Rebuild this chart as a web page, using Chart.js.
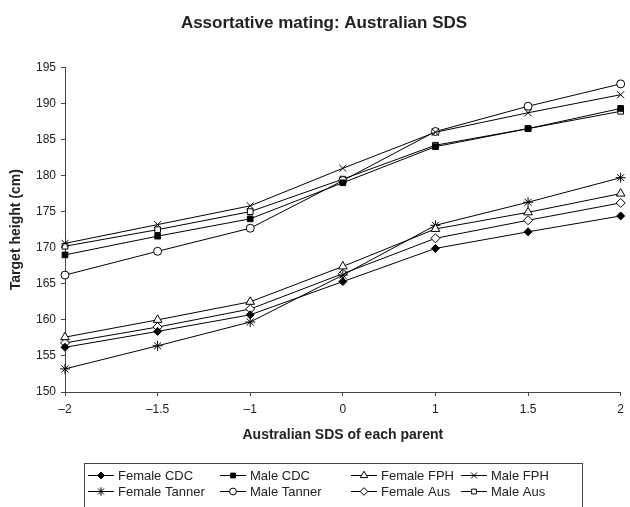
<!DOCTYPE html>
<html>
<head>
<meta charset="utf-8">
<script src="https://cdn.jsdelivr.net/npm/chart.js@4/dist/chart.umd.min.js"></script>
<style>
  html, body { margin: 0; padding: 0; background: #fff; }
  canvas { display: block; }
</style>
</head>
<body>
<canvas id="chart" width="630" height="507"></canvas>
<script>
// tick labels along the x axis (category axis, evenly spaced)
var sdsLabels = ['\u20132', '\u20131.5', '\u20131', '0', '1', '1.5', '2'];

// target height (cm), one array per method
var femaleCDC    = [156.2, 158.4, 160.7, 165.3, 169.9, 172.2, 174.4];
var maleCDC      = [169.0, 171.6, 174.0, 179.0, 184.0, 186.5, 189.3];
var femaleFPH    = [157.6, 160.0, 162.5, 167.4, 172.6, 174.9, 177.5];
var maleFPH      = [170.6, 173.2, 175.8, 181.0, 186.0, 188.7, 191.2];
var femaleTanner = [153.2, 156.4, 159.7, 166.2, 173.1, 176.3, 179.7];
var maleTanner   = [166.2, 169.5, 172.7, 179.3, 186.1, 189.6, 192.7];
var femaleAus    = [156.8, 159.0, 161.5, 166.4, 171.3, 173.8, 176.2];
var maleAus      = [170.2, 172.5, 175.0, 179.5, 184.2, 186.5, 188.9];

var FONT = "'Liberation Sans', Arial, Helvetica, sans-serif";
var TEXT = '#222';

function series(label, data, style, fill, radius) {
    return {
        label: label,
        data: data,
        borderColor: '#000',
        borderWidth: 1,
        pointStyle: style,
        pointRadius: radius,
        pointHoverRadius: radius,
        pointBackgroundColor: fill,
        pointBorderColor: '#000',
        pointBorderWidth: 1,
        tension: 0,
        fill: false
    };
}

var datasets = [
    series('Female CDC', femaleCDC, 'rectRot', '#000', 4),
    series('Male CDC', maleCDC, 'rect', '#000', 4),
    series('Female FPH', femaleFPH, 'triangle', '#fff', 5),
    series('Male FPH', maleFPH, 'crossRot', '#fff', 5),
    series('Female Tanner', femaleTanner, 'star', '#fff', 5),
    series('Male Tanner', maleTanner, 'circle', '#fff', 4),
    series('Female Aus', femaleAus, 'rectRot', '#fff', 4.5),
    series('Male Aus', maleAus, 'rect', '#fff', 4)
];

// legend in a box: 2 rows x 4 columns, x = where each label's text starts
var legendText = [118, 250, 381, 491];
var legendRows = [475, 491];

var boxLegend = {
    id: 'boxLegend',
    afterDraw: function (chart) {
        var ctx = chart.ctx;
        ctx.save();
        ctx.strokeStyle = '#444';
        ctx.lineWidth = 1;
        ctx.strokeRect(84.5, 463.5, 498, 60);
        ctx.font = '13px ' + FONT;
        ctx.textBaseline = 'middle';
        ctx.textAlign = 'left';
        chart.data.datasets.forEach(function (ds, i) {
            var tx = legendText[i % 4];
            var y = legendRows[Math.floor(i / 4)];
            var x = tx - 30;
            ctx.strokeStyle = '#000';
            ctx.lineWidth = 1;
            ctx.beginPath();
            ctx.moveTo(x, y + 0.5);
            ctx.lineTo(x + 26, y + 0.5);
            ctx.stroke();
            ctx.fillStyle = ds.pointBackgroundColor;
            Chart.helpers.drawPoint(ctx, {
                pointStyle: ds.pointStyle,
                radius: ds.pointRadius * 0.85,
                borderWidth: 1,
                rotation: 0
            }, x + 13, y + 0.5);
            ctx.fillStyle = TEXT;
            ctx.fillText(ds.label, tx, y + 1);
        });
        ctx.restore();
    }
};

new Chart(document.getElementById('chart'), {
    type: 'line',
    data: { labels: sdsLabels, datasets: datasets },
    plugins: [boxLegend],
    options: {
        responsive: false,
        animation: false,
        // left padding pushes the title centre right; the y title is pulled back with a negative padding
        layout: { padding: { top: 8, left: 25, right: 7, bottom: 52 } },
        plugins: {
            legend: { display: false },
            tooltip: { enabled: false },
            title: {
                display: true,
                text: 'Assortative mating: Australian SDS',
                color: TEXT,
                font: { family: FONT, size: 17, weight: 'bold' },
                padding: { top: 4.8, bottom: 34.1 }
            }
        },
        scales: {
            x: {
                type: 'category',
                offset: false,
                afterFit: function (scale) { scale.height = 63; },
                grid: { drawOnChartArea: false, drawTicks: true, tickLength: 4, tickColor: '#444' },
                border: { display: true, color: '#444', width: 1 },
                ticks: { color: TEXT, font: { family: FONT, size: 12 }, padding: 6, maxRotation: 0, autoSkip: false },
                title: {
                    display: true,
                    text: 'Australian SDS of each parent',
                    color: TEXT,
                    font: { family: FONT, size: 14, weight: 'bold' },
                    padding: { top: 0, bottom: 11.6 }
                }
            },
            y: {
                min: 150,
                max: 195,
                afterFit: function (scale) { scale.width = 40; },
                grid: { drawOnChartArea: false, drawTicks: true, tickLength: 4, tickColor: '#444' },
                border: { display: true, color: '#444', width: 1 },
                ticks: { stepSize: 5, color: TEXT, font: { family: FONT, size: 12 }, padding: 5 },
                title: {
                    display: true,
                    text: 'Target height (cm)',
                    color: TEXT,
                    font: { family: FONT, size: 14, weight: 'bold' },
                    padding: { top: -17.4, bottom: 0 }
                }
            }
        }
    }
});
</script>
</body>
</html>
